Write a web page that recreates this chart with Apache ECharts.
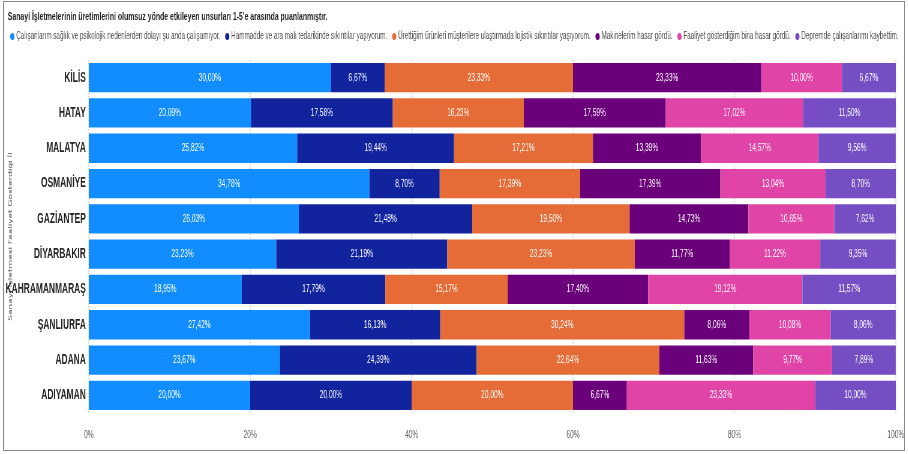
<!DOCTYPE html>
<html>
<head>
<meta charset="utf-8">
<script src="https://cdn.jsdelivr.net/npm/echarts@6/dist/echarts.min.js"></script>
<style>
  html, body { margin: 0; padding: 0; background: #fff; overflow: hidden; }
  #wrap { position: relative; width: 908px; height: 454px; overflow: hidden; }
  /* the reference is a horizontally squeezed screenshot, so draw wide and squeeze */
  #chart { width: 1513px; height: 454px; transform: scaleX(0.6); transform-origin: 0 0; }
  #frame { position: absolute; left: 3px; top: 1px; width: 900px; height: 448px; border: 1.5px solid #8A8886; pointer-events: none; }
</style>
</head>
<body>
<div id="wrap">
  <div id="chart"></div>
  <div id="frame"></div>
</div>
<script>
// iller (yukaridan asagiya)
const provinces = ['KİLİS', 'HATAY', 'MALATYA', 'OSMANİYE', 'GAZİANTEP', 'DİYARBAKIR', 'KAHRAMANMARAŞ', 'ŞANLIURFA', 'ADANA', 'ADIYAMAN']

const seriesNames = [
    'Çalışanlarım sağlık ve psikolojik nedenlerden dolayı şu anda çalışamıyor.',
    'Hammadde ve ara malı tedarikinde sıkıntılar yaşıyorum.',
    'Ürettiğim ürünleri müşterilere ulaştırmada lojistik sıkıntılar yaşıyorum.',
    'Makinelerim hasar gördü.',
    'Faaliyet gösterdiğim bina hasar gördü.',
    'Depremde çalışanlarımı kaybettim.'
]

const calisanlar = [30.00, 20.09, 25.82, 34.78, 26.03, 23.23, 18.95, 27.42, 23.67, 20.00]
const hammadde = [6.67, 17.58, 19.44, 8.70, 21.48, 21.19, 17.79, 16.13, 24.39, 20.00]
const lojistik = [23.33, 16.23, 17.21, 17.39, 19.50, 23.23, 15.17, 30.24, 22.64, 20.00]
const makine = [23.33, 17.59, 13.39, 17.39, 14.73, 11.77, 17.40, 8.06, 11.63, 6.67]
const bina = [10.00, 17.02, 14.57, 13.04, 10.65, 11.22, 19.12, 10.08, 9.77, 23.33]
const kayip = [6.67, 11.50, 9.56, 8.70, 7.62, 9.35, 11.57, 8.06, 7.89, 10.00]

const xTicks = [0, 20, 40, 60, 80, 100]

const colors = ['#118DFF', '#12239E', '#E66C37', '#6B007B', '#E044A7', '#744EC2']
const font = '"Liberation Sans", Arial, sans-serif'

const fmt = v => v.toFixed(2).replace('.', ',') + '%'

const dataSets = [calisanlar, hammadde, lojistik, makine, bina, kayip]

const chart = echarts.init(document.getElementById('chart'))
chart.setOption({
    animation: false,
    color: colors,
    title: {
        text: 'Sanayi İşletmelerinin üretimlerini olumsuz yönde etkileyen unsurları 1-5\'e arasında puanlanmıştır.',
        left: 8,
        top: 6,
        textStyle: { fontFamily: font, fontSize: 11.5, fontWeight: 'bold', color: '#252423' }
    },
    legend: {
        left: 12,
        top: 26,
        icon: 'circle',
        itemWidth: 7,
        itemHeight: 7,
        itemGap: 8,
        textStyle: { fontFamily: font, fontSize: 10.5, color: '#4E4C4A', padding: [0, 0, 0, -2] },
        data: seriesNames
    },
    grid: { left: 148, right: 20, top: 60, bottom: 41, outerBoundsMode: 'none', containLabel: false },
    xAxis: {
        type: 'value',
        min: xTicks[0],
        max: xTicks[xTicks.length - 1],
        interval: 20,
        axisLine: { show: false },
        axisTick: { show: false },
        axisLabel: { formatter: '{value}%', color: '#605E5C', fontFamily: font, fontSize: 11, margin: 16 },
        splitLine: { show: true, lineStyle: { type: 'dotted', color: '#C8C6C4', width: 1.5 } }
    },
    yAxis: {
        type: 'category',
        data: provinces,
        inverse: true,
        name: 'Sanayi İşletmesi Faaliyet Gösterdiği İl',
        nameLocation: 'middle',
        nameRotate: 90,
        nameGap: 126,
        nameMoveOverlap: false,
        nameTextStyle: { fontSize: 9, color: '#605E5C', fontFamily: 'DejaVu Sans' },
        axisLine: { show: false },
        axisTick: { show: false },
        axisLabel: { color: '#252423', fontFamily: font, fontWeight: 'bold', fontSize: 14, margin: 5 }
    },
    series: seriesNames.map((name, i) => ({
        name: name,
        type: 'bar',
        stack: 'total',
        barCategoryGap: '17%',
        data: dataSets[i],
        label: {
            show: true,
            position: 'inside',
            color: '#fff',
            fontFamily: font,
            fontSize: 11,
            formatter: p => fmt(p.value)
        }
    }))
})
</script>
</body>
</html>
